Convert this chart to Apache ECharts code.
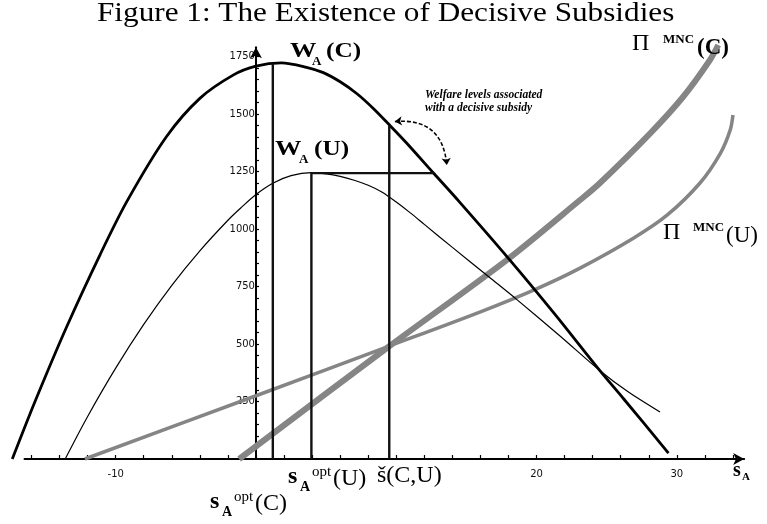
<!DOCTYPE html>
<html>
<head>
<meta charset="UTF-8">
<title>Figure 1</title>
<script src="https://cdn.jsdelivr.net/npm/echarts@6/dist/echarts.min.js"></script>
<style>html,body{margin:0;background:#fff}#main{width:767px;height:524px}</style>
</head>
<body>
<div id="main"></div>
<script type="text/javascript">
// W_A(C): welfare with competition (thick black)
var wcX = [-17.37, -15.75, -13.5, -11.1, -9.2, -6.4, -4.0, -1.6, 0, 1.8, 3.6, 4.8, 6.0, 7.2, 8.4, 9.55, 10.7, 12.7, 14.5, 18.1, 21.3, 24.5, 26.2, 29.4];
var wcY = [0, 250, 574, 890, 1120, 1400, 1568, 1670, 1708, 1722, 1703, 1680, 1640, 1588, 1522, 1450, 1376, 1240, 1118, 865, 630, 385, 262, 26];
// W_A(U): welfare without competition (thin black)
var wuX = [-13.6, -12, -10, -8, -6, -4, -2, -1, 0, 1.2, 2.5, 3.95, 5, 6, 7, 8, 9, 10, 11, 12, 14, 16.7, 18.6, 21.67, 24.5, 26.5, 28.8];
var wuY = [0, 185, 395, 585, 755, 905, 1038, 1096, 1150, 1199, 1232, 1245, 1240, 1229, 1212, 1190, 1160, 1117, 1070, 1020, 920, 787, 693, 535, 385, 293, 204];
// Pi^MNC(C) (thick grey)
var pcX = [-1.2, 9.45, 17.87, 23.1, 24.5, 28.1, 30.45, 32.36, 32.95];
var pcY = [0, 488, 865, 1126, 1199, 1416, 1575, 1735, 1800];
// Pi^MNC(U) (grey)
var puX = [-12.2, 0, 9.45, 16, 20, 23.1, 26.9, 29.3, 31.65, 33.1, 33.8, 34.0];
var puY = [0, 275, 490, 640, 740, 830, 960, 1060, 1200, 1329, 1430, 1496];
// guide lines: s_A^opt(C), s_A^opt(U), s-check(C,U)
var guideX = [1.2, 3.95, 9.5];
var guideTop = [1720, 1243, 1450];
var levelX = [3.95, 12.7];
var levelY = 1243;
// annotation arrow ends
var arrowFrom = [9.9, 1467];
var arrowTo = [13.6, 1278];
// ticks and labels
var xTicks = [-16, -14, -12, -10, -8, -6, -4, -2, 0, 2, 4, 6, 8, 10, 12, 14, 16, 18, 20, 22, 24, 26, 28, 30, 32, 34];
var xLabels = [-10, 20, 30];
var yTicks = [];
for (var t = 50; t <= 1750; t += 50) yTicks.push(t);
var yLabels = [250, 500, 750, 1000, 1250, 1500, 1750];

function pairs(xs, ys) {
  return xs.map(function (x, i) { return [x, ys[i]]; });
}

var W = 767, H = 524;
var X_MIN = -16.5, X_MAX = 34.8, Y_MAX = 1790;
var GRID_L = 24.5, GRID_R = 22.8, GRID_T = 47.3, GRID_B = 65;
var pxX = (W - GRID_L - GRID_R) / (X_MAX - X_MIN);
var pxY = (H - GRID_T - GRID_B) / Y_MAX;
// wider hidden grid for the curves so nothing is clipped
var D_X_MIN = -18, D_Y_MAX = 1860;
var dataGrid = {
  left: GRID_L - (X_MIN - D_X_MIN) * pxX, right: GRID_R,
  top: H - GRID_B - D_Y_MAX * pxY, bottom: GRID_B, outerBoundsMode: 'none'
};
// pixel offset that puts the y axis on x = 0
var yAxisShift = -(0 - X_MIN) * pxX;

var SERIF = 'Liberation Serif';
function txt(x, y, s, size, weight, opt) {
  opt = opt || {};
  return {
    type: 'text', x: x, y: y, scaleX: opt.sx || 1, z: 100,
    style: {
      text: s, fontFamily: SERIF, fontSize: size, fontWeight: weight || 'normal',
      fontStyle: opt.italic ? 'italic' : 'normal', fill: '#000',
      align: 'left', verticalAlign: 'middle'
    }
  };
}

function curve(xs, ys, color, width) {
  return {type: 'line', xAxisIndex: 1, yAxisIndex: 1, data: pairs(xs, ys), smooth: 0.3,
    showSymbol: false, lineStyle: {color: color, width: width}};
}

var guideSeries = guideX.map(function (x, i) {
  return {
    type: 'line', xAxisIndex: 1, yAxisIndex: 1, data: [[x, 0], [x, guideTop[i]]], showSymbol: false, z: 5,
    lineStyle: {color: '#111', width: 2.4}
  };
});

var myChart = echarts.init(document.getElementById('main'));
var option = {
  animation: false,
  grid: [
    {left: GRID_L, right: GRID_R, top: GRID_T, bottom: GRID_B, outerBoundsMode: 'none'},
    dataGrid
  ],
  xAxis: [{
    type: 'value', min: X_MIN, max: X_MAX, gridIndex: 0,
    splitLine: {show: false},
    axisLine: {lineStyle: {color: '#000', width: 2}, symbol: ['none', 'arrow'], symbolSize: [9, 11]},
    axisTick: {customValues: xTicks, inside: true, length: 4, lineStyle: {color: '#000', width: 1.2}},
    axisLabel: {customValues: xLabels, margin: 10, fontFamily: 'DejaVu Sans', fontSize: 10, color: '#111'}
  }, {
    type: 'value', min: D_X_MIN, max: X_MAX, gridIndex: 1, show: false
  }],
  yAxis: [{
    type: 'value', min: 0, max: Y_MAX, gridIndex: 0, position: 'left', offset: yAxisShift,
    splitLine: {show: false},
    axisLine: {onZero: false, lineStyle: {color: '#000', width: 2}, symbol: ['none', 'arrow'], symbolSize: [9, 11]},
    axisTick: {customValues: yTicks, inside: true, length: 3, lineStyle: {color: '#000', width: 1.2}},
    axisLabel: {customValues: yLabels, margin: 1, fontFamily: 'DejaVu Sans', fontSize: 10, color: '#111',
      formatter: function (v) { return String(v); }}
  }, {
    type: 'value', min: 0, max: D_Y_MAX, gridIndex: 1, show: false
  }],
  series: [
    curve(puX, puY, '#858585', 3.5),
    curve(pcX, pcY, '#858585', 6),
    curve(wuX, wuY, '#000', 1.2),
    curve(wcX, wcY, '#000', 2.8),
    {type: 'line', xAxisIndex: 1, yAxisIndex: 1, data: [[levelX[0], levelY], [levelX[1], levelY]],
      showSymbol: false, z: 5, lineStyle: {color: '#111', width: 2.2}},
    {type: 'lines', coordinateSystem: 'cartesian2d', xAxisIndex: 1, yAxisIndex: 1, z: 6,
      symbol: ['arrow', 'arrow'], symbolSize: 7,
      lineStyle: {color: '#000', width: 1.6, type: [4, 2], curveness: 0.5, opacity: 1},
      data: [{coords: [arrowFrom, arrowTo]}]}
  ].concat(guideSeries),
  graphic: [
    txt(97, 14, 'Figure 1: The Existence of Decisive Subsidies', 27, 'normal', {sx: 1.156}),
    // W_A(C)
    txt(290, 51, 'W', 22, 'bold', {sx: 1.2}),
    txt(312, 62, 'A', 13, 'bold'),
    txt(326, 51, '(C)', 22, 'bold', {sx: 1.15}),
    // W_A(U)
    txt(275, 149, 'W', 22, 'bold', {sx: 1.2}),
    txt(299, 160, 'A', 13, 'bold'),
    txt(314, 149, '(U)', 22, 'bold', {sx: 1.15}),
    // Pi MNC (C)
    txt(632, 44, '\u03A0', 24, 'normal'),
    txt(663, 40, 'MNC', 13, 'bold'),
    txt(697, 48, '(C)', 23, 'bold'),
    // Pi MNC (U)
    txt(663, 233, '\u03A0', 24, 'normal'),
    txt(693, 228, 'MNC', 13, 'bold'),
    txt(726, 236, '(U)', 23, 'normal'),
    // welfare note
    txt(425, 95.5, 'Welfare levels associated', 11.5, 'bold', {italic: true}),
    txt(425, 108.5, 'with a decisive subsidy', 11.5, 'bold', {italic: true}),
    // s_A^opt(U)
    txt(288, 477, 's', 24, 'bold'),
    txt(300, 487, 'A', 14, 'bold'),
    txt(312, 472, 'opt', 15, 'normal'),
    txt(333, 479, '(U)', 24, 'normal'),
    // s_A^opt(C)
    txt(210, 502, 's', 24, 'bold'),
    txt(222, 512, 'A', 14, 'bold'),
    txt(234, 497, 'opt', 15, 'normal'),
    txt(255, 504, '(C)', 24, 'normal'),
    // s-check(C,U)
    txt(377, 476, '\u0161(C,U)', 24, 'normal'),
    // axis name s_A
    txt(733, 471, 's', 20, 'bold'),
    txt(742, 477, 'A', 11, 'bold')
  ]
};
myChart.setOption(option);
</script>
</body>
</html>
